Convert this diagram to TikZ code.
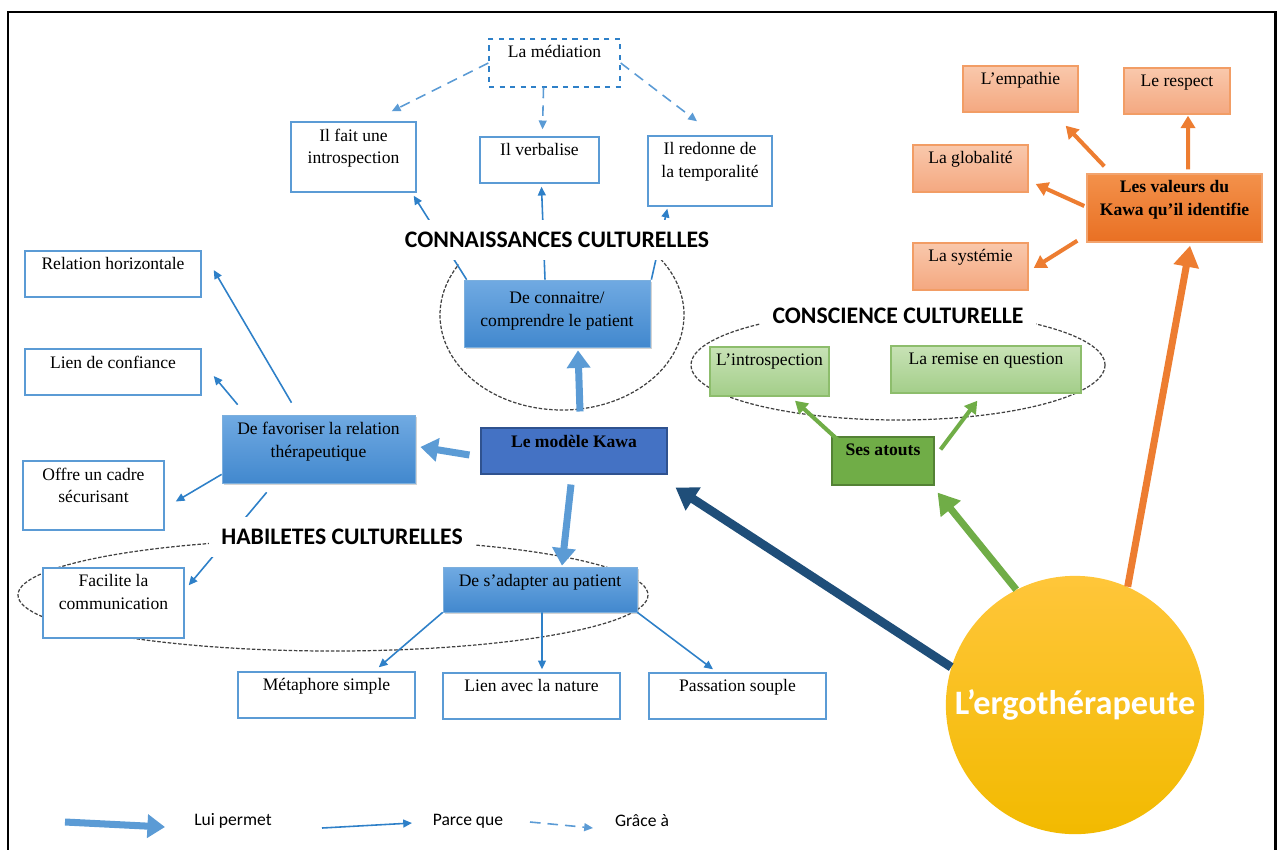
\documentclass[tikz,border=0pt]{standalone}
\usepackage{fontspec}
\setmainfont{Liberation Serif}
\newfontfamily\hdfont{Carlito}
\usetikzlibrary{arrows.meta,calc,fit,shadows}

\definecolor{boxblue}{RGB}{91,155,213}
\definecolor{lineblue}{RGB}{46,128,200}
\definecolor{gradtop}{RGB}{112,170,226}
\definecolor{gradbot}{RGB}{66,136,206}
\definecolor{kawablue}{RGB}{68,114,196}
\definecolor{kawaline}{RGB}{47,82,143}
\definecolor{navyarrow}{RGB}{31,78,121}
\definecolor{grn}{RGB}{112,173,71}
\definecolor{grnline}{RGB}{84,130,53}
\definecolor{lgrntop}{RGB}{200,226,182}
\definecolor{lgrnbot}{RGB}{163,206,137}
\definecolor{orng}{RGB}{237,125,49}
\definecolor{lorgtop}{RGB}{249,200,172}
\definecolor{lorgbot}{RGB}{244,168,128}
\definecolor{dorgtop}{RGB}{243,145,75}
\definecolor{dorgbot}{RGB}{233,112,35}
\definecolor{suntop}{RGB}{255,198,58}
\definecolor{sunbot}{RGB}{242,186,0}

\begin{document}
\begin{tikzpicture}[x=0.02cm, y=-0.02cm,
  lbl/.style={anchor=north, inner sep=4pt, align=center, font=\fontsize{10}{13}\selectfont},
  txt/.style={label={[lbl]north:{#1}}},
  btxt/.style={label={[lbl, font=\fontsize{10}{13}\selectfont\bfseries]north:{#1}}},
  wbox/.style={draw=boxblue, line width=0.8pt, fill=white, inner sep=0pt},
  bbox/.style={draw=boxblue!80!white, line width=0.4pt, top color=gradtop, bottom color=gradbot, inner sep=0pt,
    drop shadow={opacity=0.35, shadow xshift=1.2pt, shadow yshift=-1.2pt}},
  gbox/.style={draw=grn!80!white, line width=0.8pt, top color=lgrntop, bottom color=lgrnbot, inner sep=0pt},
  obox/.style={draw=orng!75!white, line width=0.8pt, top color=lorgtop, bottom color=lorgbot, inner sep=0pt},
  hdr/.style={fill=white, inner xsep=7pt, inner ysep=7pt, font=\hdfont\bfseries\fontsize{13.5}{16}\selectfont},
  zone/.style={draw=black!75, line width=0.7pt, dash pattern=on 2pt off 1pt},
  permet/.style={draw=boxblue, line width=4pt, -{Triangle[length=10pt, width=13pt]}},
  parceque/.style={draw=lineblue, line width=0.9pt, -{Triangle[length=5pt, width=4.5pt]}},
  grace/.style={draw=boxblue, line width=0.9pt, dash pattern=on 6pt off 4pt, -{Triangle[length=5pt, width=4.5pt]}},
  atout/.style={draw=grn, line width=2.3pt, -{Triangle[length=7pt, width=8pt]}},
  valeur/.style={draw=orng, line width=2.3pt, -{Triangle[length=7pt, width=8pt]}},
  legende/.style={font=\hdfont\fontsize{10}{12}\selectfont}]

  \useasboundingbox (0,0) rectangle (1280,849);
  \draw[line width=1.7pt] (8,12) rectangle (1275,870);

  \draw[zone] (562,315) ++(-36:122 and 95) arc[start angle=-36, end angle=212, x radius=122, y radius=95];
  \draw[zone] (333,595) ellipse[x radius=315, y radius=56];
  \draw[zone] (898,365) ellipse[x radius=207, y radius=55];

  \node[wbox, dashed, draw=lineblue, fit={(489,39) (620,87)}, txt={La médiation}] (mediation) {};
  \node[wbox, fit={(291,122) (416,192)}, txt={Il fait une\\introspection}] (intro) {};
  \node[wbox, fit={(480,137) (599,183)}, txt={Il verbalise}] (verb) {};
  \node[wbox, fit={(648,136) (772,206)}, txt={Il redonne de\\la temporalité}] (tempo) {};
  \node[wbox, fit={(25,251) (201,297)}, txt={Relation horizontale}] (relhor) {};
  \node[wbox, fit={(25,349) (201,395)}, txt={Lien de confiance}] (confiance) {};
  \node[wbox, fit={(23,461) (164,530)}, txt={Offre un cadre\\sécurisant}] (cadre) {};
  \node[wbox, fit={(43,568) (184,638)}, txt={Facilite la\\communication}] (commu) {};
  \node[wbox, fit={(238,672) (415,718)}, txt={Métaphore simple}] (metaphore) {};
  \node[wbox, fit={(443,673) (620,719)}, txt={Lien avec la nature}] (nature) {};
  \node[wbox, fit={(649,673) (826,719)}, txt={Passation souple}] (souple) {};

  \node[bbox, fit={(464,280) (650,347)}, label={[lbl, inner sep=7pt]north:{De connaitre/\\comprendre le patient}}] (connaitre) {};
  \node[bbox, fit={(222,415) (415,483)}, txt={De favoriser la relation\\thérapeutique}] (favoriser) {};
  \node[bbox, fit={(443,567) (637,612)}, txt={De s’adapter au patient}] (adapter) {};
  \node[fill=kawablue, draw=kawaline, line width=0.6pt, inner sep=0pt, fit={(481,428) (667,474)}, btxt={Le modèle Kawa}] (kawa) {};

  \node[fill=grn, draw=grnline, line width=0.6pt, inner sep=0pt, fit={(832,437) (934,485)}, btxt={Ses atouts}] (atouts) {};
  \node[gbox, fit={(710,347) (829,396)}, txt={L’introspection}] (introsp) {};
  \node[gbox, fit={(891,346) (1081,393)}, txt={La remise en question}] (remise) {};

  \node[draw=orng!70!white, line width=0.8pt, top color=dorgtop, bottom color=dorgbot, inner sep=0pt,
    fit={(1087,174) (1262,242)}, btxt={Les valeurs du\\Kawa qu’il identifie}] (valeurs) {};
  \node[obox, fit={(963,66) (1078,112)}, txt={L’empathie}] (empathie) {};
  \node[obox, fit={(1124,68) (1230,114)}, txt={Le respect}] (respect) {};
  \node[obox, fit={(913,145) (1028,192)}, txt={La globalité}] (globalite) {};
  \node[obox, fit={(913,243) (1028,290)}, txt={La systémie}] (systemie) {};

  \node[circle, minimum size=147pt, inner sep=0pt, top color=suntop, bottom color=sunbot, text=white,
    font=\hdfont\bfseries\fontsize{19.5}{22}\selectfont] (ergo) at (1075,705) {L’ergothérapeute};

  \draw[grace] (mediation.west) -- ($(intro.north east)+(-25,-10)$);
  \draw[grace] ($(mediation.south)+(-11,0)$) -- ($(verb.north)+(3,-7)$);
  \draw[grace] (mediation.east) -- ($(tempo.north)+(-13,-14)$);

  \draw[parceque] ($(connaitre.north west)+(3,0)$) -- ($(intro.south east)+(-3,3)$);
  \draw[parceque] ($(connaitre.north)+(-12,0)$) -- ($(verb.south)+(2,3)$);
  \draw[parceque] ($(connaitre.north east)+(1,0)$) -- ($(tempo.south west)+(20,2)$);

  \draw[parceque] ($(favoriser.north)+(-27,-12)$) -- ($(relhor.east)+(12,-4)$);
  \draw[parceque] ($(favoriser.north west)+(16,-10)$) -- ($(confiance.east)+(12,4)$);
  \draw[parceque] ($(favoriser.south west)+(0,-9)$) -- ($(cadre.east)+(11,6)$);
  \draw[parceque] ($(favoriser.south west)+(45,9)$) -- ($(commu.north east)+(4,18)$);

  \draw[parceque] (adapter.south west) -- ($(metaphore.north east)+(-37,-4)$);
  \draw[parceque] ($(adapter.south)+(2,0)$) -- ($(nature.north)+(10.5,-3)$);
  \draw[parceque] (adapter.south east) -- ($(souple.north)+(-24.5,-3)$);

  \draw[permet] ($(kawa.north)+(6,-16)$) -- ($(connaitre.south)+(21,3)$);
  \draw[permet] ($(kawa.west)+(-11,4)$) -- ($(favoriser.east)+(5,-2)$);
  \draw[permet] ($(kawa.south)+(-3,10)$) -- ($(adapter.north)+(22,-1)$);

  \draw[atout] ($(atouts.north west)+(6,3)$) -- ($(introsp.south)+(25.5,4)$);
  \draw[atout] ($(atouts.north east)+(6,13)$) -- ($(remise.south west)+(87,7)$);

  \draw[valeur] ($(valeurs.north west)+(18,-7)$) -- ($(empathie.south east)+(-13,13)$);
  \draw[valeur] ($(valeurs.north)+(13.5,-4)$) -- ($(respect.south)+(11,1)$);
  \draw[valeur] ($(valeurs.west)+(-2,-2)$) -- ($(globalite.east)+(7,15.5)$);
  \draw[valeur] ($(valeurs.south west)+(-9,-2)$) -- ($(systemie.east)+(5,1.5)$);

  \draw[draw=navyarrow, line width=5pt, -{Triangle[length=12pt, width=15pt]}] (ergo.163) -- ($(kawa.south east)+(8,13)$);
  \draw[draw=grn, line width=4pt, -{Triangle[length=12pt, width=14pt]}] (ergo.117) -- ($(atouts.south east)+(3,7)$);
  \draw[draw=orng, line width=4pt, -{Triangle[length=12pt, width=14pt]}] (ergo.66) -- ($(valeurs.south)+(15.5,3)$);

  \node[hdr] (connhd) at (557,240) {CONNAISSANCES CULTURELLES};
  \node[hdr] (habhd) at (342,537) {HABILETES CULTURELLES};
  \node[hdr] (conshd) at (898,316) {CONSCIENCE CULTURELLE};

  \coordinate (lg1a) at (65,822);
  \coordinate (lg1b) at (165,827);
  \coordinate (lg2a) at (322,828);
  \coordinate (lg2b) at (412,823);
  \coordinate (lg3a) at (530,822);
  \coordinate (lg3b) at (593,828);
  \draw[permet] (lg1a) -- (lg1b);
  \draw[parceque] (lg2a) -- (lg2b);
  \draw[grace] (lg3a) -- (lg3b);
  \node[legende] (lg1) at (233,821) {Lui permet};
  \node[legende] (lg2) at (468,821) {Parce que};
  \node[legende] (lg3) at (642,821) {Grâce à};
\end{tikzpicture}
\end{document}
